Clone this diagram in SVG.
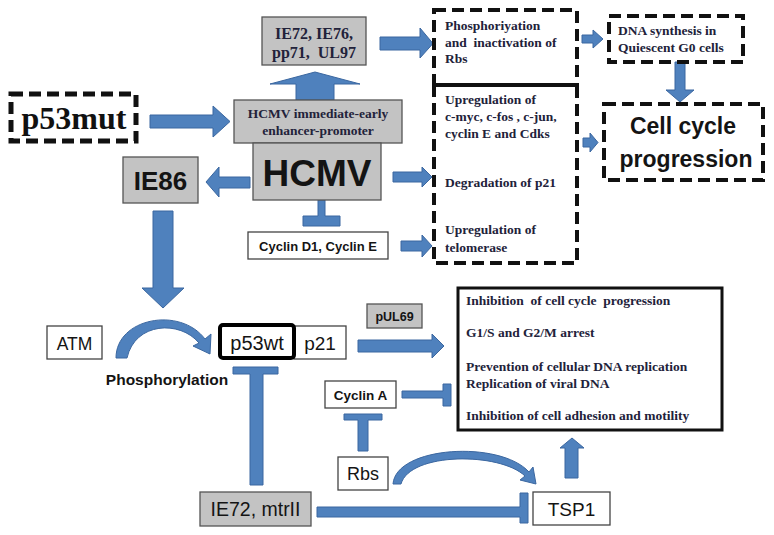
<svg xmlns="http://www.w3.org/2000/svg" width="774" height="535" viewBox="0 0 774 535">
<style>
.bg{fill:#ffffff}
.gray{fill:#c3c3c3;stroke:#555555;stroke-width:1.3}
.white{fill:#ffffff;stroke:#444444;stroke-width:1.3}
.dash{fill:none;stroke:#111111;stroke-width:4;stroke-dasharray:12 6}
.solid{fill:#ffffff;stroke:#111111;stroke-width:3}
.arr{fill:#4f81bd;stroke:#3b67a0;stroke-width:1}
.serif{font-family:"Liberation Serif","Times New Roman",serif;font-weight:bold;fill:#22223a}
.sans{font-family:"Liberation Sans",Arial,sans-serif;fill:#141414}
.b{font-weight:bold}
</style>
<rect class="bg" x="0" y="0" width="774" height="535"/>

<g id="connectors">
  <polygon class="arr" points="296,100 296,84 270,84 315,72 360,84 334,84 334,100"/>
  <polygon class="arr" points="150,115 213,115 213,106 230,121.5 213,137 213,128 150,128"/>
  <polygon class="arr" points="250,177 219,177 219,167 206,182 219,197 219,188 250,188"/>
  <polygon class="arr" points="153,211 173,211 173,288 184,288 163,308 142,288 153,288"/>
  <polygon class="arr" points="380,37 420,37 420,28 433,43.5 420,58 420,50 380,50"/>
  <polygon class="arr" points="582,35 593,35 593,30 603,39 593,48 593,43 582,43"/>
  <polygon class="arr" points="675,62 685,62 685,90 694,90 680,102 666,90 675,90"/>
  <polygon class="arr" points="583,138 590,138 590,133 598,142.5 590,152 590,147 583,147"/>
  <polygon class="arr" points="393,172 422,172 422,167 432,177 422,187 422,182 393,182"/>
  <polygon class="arr" points="401,241 422,241 422,235 432,246 422,257 422,251 401,251"/>
  <polygon class="arr" points="358,340 432,340 432,334 444,346 432,358 432,352 358,352"/>
  <polygon class="arr" points="565,478 565,448 560,448 572,438 584,448 578,448 578,478"/>
  <path class="arr" d="M318,200 H325 V216 H340 V226 H303 V216 H318 Z"/>
  <path class="arr" d="M250,485 V374 H233 V367 H278 V374 H263 V485 Z"/>
  <path class="arr" d="M358,451 V420 H344 V414 H382 V420 H368 V451 Z"/>
  <path class="arr" d="M402,391 H443 V384 H451 V406 H443 V398 H402 Z"/>
  <path class="arr" d="M317,507 H520 V493 H528 V523 H520 V517 H317 Z"/>
  <path class="arr" d="M116,358 C116,318 180,306 205,339 L211,334 L210,354 L193,346 L199,343 C180,320 135,322 127,358 Z"/>
  <path class="arr" d="M393,484 C396,446 500,440 529,472 L533,467 L536,484 L520,480 L525,476 C500,452 410,452 401,484 Z"/>
</g>

<g id="p53mut">
  <rect class="dash" x="11" y="94" width="125" height="47" style="stroke-width:5"/>
  <text class="serif" x="74" y="129" font-size="32" text-anchor="middle" style="fill:#111111">p53mut</text>
</g>

<g id="ie72-box">
  <rect class="gray" x="262" y="17" width="104" height="48"/>
  <text class="serif" x="314" y="39" font-size="16" text-anchor="middle">IE72, IE76,</text>
  <text class="serif" x="314" y="58" font-size="16" text-anchor="middle" xml:space="preserve">pp71,  UL97</text>
</g>

<g id="promoter">
  <rect class="gray" x="234" y="100" width="168" height="43"/>
  <text class="serif" x="318" y="118" font-size="13.5" text-anchor="middle">HCMV immediate-early</text>
  <text class="serif" x="318" y="135" font-size="13.5" text-anchor="middle">enhancer-promoter</text>
</g>

<g id="hcmv">
  <rect class="gray" x="253" y="143" width="128" height="57"/>
  <text class="sans b" x="317" y="186" font-size="37" text-anchor="middle">HCMV</text>
</g>

<g id="ie86">
  <rect class="gray" x="123" y="157" width="75" height="46"/>
  <text class="sans b" x="160.5" y="190" font-size="26" text-anchor="middle">IE86</text>
</g>

<g id="cyclin-d1">
  <rect class="white" x="248" y="232" width="140" height="27"/>
  <text class="sans b" x="318" y="251" font-size="13" text-anchor="middle">Cyclin D1, Cyclin E</text>
</g>

<g id="phosph-box">
  <rect class="dash" x="434" y="10" width="143" height="75"/>
  <text class="serif" x="445" y="30" font-size="13.5">Phosphoriyation</text>
  <text class="serif" x="445" y="47" font-size="13.5" xml:space="preserve">and  inactivation of</text>
  <text class="serif" x="445" y="63" font-size="13.5">Rbs</text>
</g>

<g id="effects-box">
  <rect class="dash" x="434" y="85" width="143" height="178"/>
  <text class="serif" x="445" y="104" font-size="13.5">Upregulation of</text>
  <text class="serif" x="445" y="121" font-size="13.5">c-myc, c-fos , c-jun,</text>
  <text class="serif" x="445" y="138" font-size="13.5">cyclin E and Cdks</text>
  <text class="serif" x="445" y="187" font-size="13.5">Degradation of p21</text>
  <text class="serif" x="445" y="234" font-size="13.5">Upregulation of</text>
  <text class="serif" x="445" y="252" font-size="13.5">telomerase</text>
</g>

<g id="dna-synthesis">
  <rect class="dash" x="609" y="16" width="134" height="46"/>
  <text class="serif" x="618" y="35" font-size="13.5">DNA synthesis in</text>
  <text class="serif" x="618" y="52" font-size="13.5">Quiescent G0 cells</text>
</g>

<g id="cell-cycle">
  <rect class="dash" x="604" y="104" width="159" height="76"/>
  <text class="sans b" x="683" y="134" font-size="23" text-anchor="middle">Cell cycle</text>
  <text class="sans b" x="686" y="167" font-size="23" text-anchor="middle">progression</text>
</g>

<g id="atm">
  <rect class="white" x="47" y="326" width="55" height="33"/>
  <text class="sans" x="74.5" y="350" font-size="17.5" text-anchor="middle">ATM</text>
</g>

<g id="phosphorylation-label">
  <text class="sans b" x="167" y="385" font-size="15.5" text-anchor="middle">Phosphorylation</text>
</g>

<g id="p21">
  <rect class="white" x="294" y="326" width="52" height="33"/>
  <text class="sans" x="320" y="350" font-size="19" text-anchor="middle">p21</text>
</g>

<g id="p53wt">
  <rect x="220" y="325" width="74" height="33" rx="3" fill="#ffffff" stroke="#000000" stroke-width="4"/>
  <text class="sans" x="257" y="350" font-size="20" text-anchor="middle">p53wt</text>
</g>

<g id="pul69">
  <rect class="gray" x="367" y="304" width="55" height="24"/>
  <text class="sans b" x="394.5" y="321" font-size="12.5" text-anchor="middle">pUL69</text>
</g>

<g id="cyclin-a">
  <rect class="white" x="325" y="381" width="71" height="27"/>
  <text class="sans b" x="360.5" y="400" font-size="13.5" text-anchor="middle">Cyclin A</text>
</g>

<g id="rbs">
  <rect class="white" x="338" y="457" width="50" height="33"/>
  <text class="sans" x="363" y="480" font-size="18" text-anchor="middle">Rbs</text>
</g>

<g id="ie72-mtrii">
  <rect class="gray" x="200" y="492" width="111" height="34"/>
  <text class="sans" x="255.5" y="516" font-size="19.5" text-anchor="middle">IE72, mtrII</text>
</g>

<g id="tsp1">
  <rect class="white" x="533" y="492" width="77" height="33"/>
  <text class="sans" x="571.5" y="516" font-size="19" text-anchor="middle">TSP1</text>
</g>

<g id="outcome-box">
  <rect class="solid" x="458" y="288" width="264" height="142"/>
  <text class="serif" x="466" y="305" font-size="13.5" xml:space="preserve">Inhibition  of cell cycle  progression</text>
  <text class="serif" x="466" y="337" font-size="13.5">G1/S and G2/M arrest</text>
  <text class="serif" x="466" y="371" font-size="13.5">Prevention of cellular DNA replication</text>
  <text class="serif" x="466" y="388" font-size="13.5">Replication of viral DNA</text>
  <text class="serif" x="466" y="420" font-size="13.5">Inhibition of cell adhesion and motility</text>
</g>
</svg>
